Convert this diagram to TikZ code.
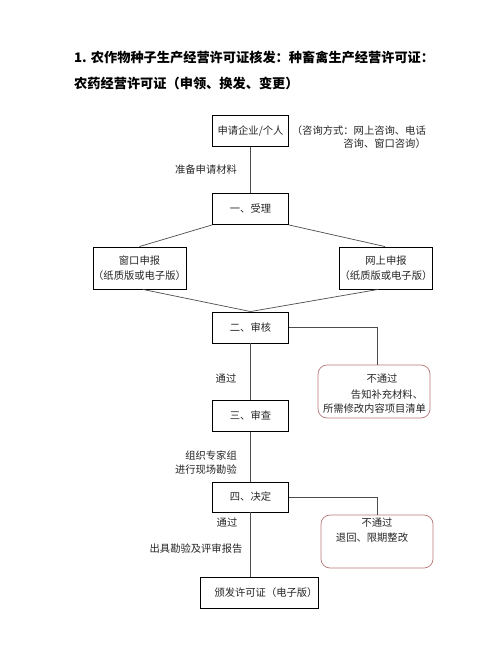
\documentclass[tikz,border=0pt]{standalone}
\usepackage{fontspec}
\setmainfont{Noto Sans CJK SC}
\begin{document}
\begin{tikzpicture}[x=1pt,y=-1pt,
  every node/.style={font=\fontsize{10.3}{13}\selectfont, inner sep=0pt, text=black!85},
  stepbox/.style={draw=black, line width=0.9pt, minimum width=76pt, minimum height=31pt, align=center},
  failbox/.style={draw={rgb,255:red,185;green,120;blue,120}, line width=0.7pt, rounded corners=9pt, minimum width=112pt, minimum height=53pt},
  conn/.style={draw=black!70, line width=0.7pt},
  lbl/.style={align=right}]
\useasboundingbox (0,0) rectangle (500,660);
\fill[white] (0,0) rectangle (500,660);
% title
\node[anchor=west, font=\fontsize{13.2}{16}\selectfont\bfseries, text=black] (t1) at (74,58) {1. 农作物种子生产经营许可证核发：种畜禽生产经营许可证：};
\node[anchor=west, font=\fontsize{13.2}{16}\selectfont\bfseries, text=black] (t2) at (74,83) {农药经营许可证（申领、换发、变更）};
% boxes
\node[stepbox] (a) at (250.5,131) {申请企业/个人};
\node[anchor=east, align=right] (note) at (426,137) {（咨询方式：网上咨询、电话\\咨询、窗口咨询）};
\node[stepbox] (b) at (250.5,209) {一、受理};
\node[stepbox, minimum width=93pt, minimum height=42pt, font=\fontsize{10.3}{15}\selectfont] (c1) at (139.5,268) {窗口申报\\（纸质版或电子版）};
\node[stepbox, minimum width=92pt, minimum height=42pt, font=\fontsize{10.3}{15}\selectfont] (c2) at (386,268) {网上申报\\（纸质版或电子版）};
\node[stepbox] (d) at (250.5,327.5) {二、审核};
\node[failbox] (e) at (374,391.5) {};
\node (e1) at (382,379) {不通过};
\node (e2) at (387,395) {告知补充材料、};
\node (e3) at (374.5,409) {所需修改内容项目清单};
\node[stepbox] (f) at (250.5,416) {三、审查};
\node[stepbox, minimum height=30pt] (g) at (250.5,497) {四、决定};
\node[failbox] (h) at (377,541.5) {};
\node (h1) at (377,523) {不通过};
\node (h2) at (372,538) {退回、限期整改};
\node[stepbox, minimum width=118pt] (i) at (259,592.5) {};
\node (i1) at (266,592.5) {颁发许可证（电子版）};
% labels
\node (l1) at (206,170) {准备申请材料};
\node (l2) at (226,379) {通过};
\node[lbl, anchor=east, font=\fontsize{10.3}{14}\selectfont] (l3) at (237,463) {组织专家组\\进行现场勘验};
\node (l4) at (227,523) {通过};
\node (l5) at (196,549) {出具勘验及评审报告};
% connectors
\draw[conn] (b.south west) -- (c1.north);
\draw[conn] (b.south east) -- ([xshift=-1pt]c2.north);
\draw[conn] (a.south) -- (b.north);
\draw[conn] ([xshift=3.5pt]c1.south) -- (d.north);
\draw[conn] ([xshift=-8pt]c2.south) -- (d.north);
\draw[conn] (d.east) -| (e.north -| 377,0);
\draw[conn] (d.south) -- (f.north);
\draw[conn] (f.south) -- (g.north);
\draw[conn] (g.east) -| (h.north);
\draw[conn] (g.south) -- (i.north -| g.south);
\end{tikzpicture}
\end{document}
